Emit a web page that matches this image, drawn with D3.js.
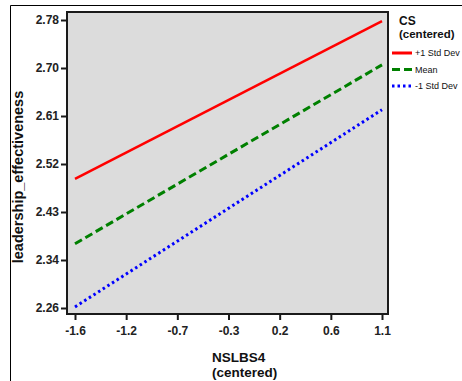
<!DOCTYPE html>
<html>
<head>
<meta charset="utf-8">
<script src="https://cdn.jsdelivr.net/npm/d3@7"></script>
<style>
	body { margin: 0; background: #fff; }
	svg text { font-family: "Liberation Sans", Arial, sans-serif; }
</style>
</head>
<body>
<div id="idContent"></div>
<script>
// x positions of the two line ends (NSLBS4, centered)
var aXValues = [-1.6, 1.1];
// predicted leadership_effectiveness for each CS level
var aHighValues = [2.493, 2.778];
var aMeanValues = [2.376, 2.699];
var aLowValues = [2.262, 2.618];
var aSeriesNames = ["+1 Std Dev", "Mean", "-1 Std Dev"];
var aXTickLabels = ["-1.6", "-1.2", "-0.7", "-0.3", "0.2", "0.6", "1.1"];
var aYTickLabels = ["2.26", "2.34", "2.43", "2.52", "2.61", "2.70", "2.78"];

var width = 462, height = 381;
var oSvg = d3.select("#idContent").append("svg")
	.attr("width", width)
	.attr("height", height);

// outer frame (top and left edges only)
oSvg.append("path")
	.attr("d", "M10.5,381 V5.5 H462")
	.attr("fill", "none")
	.attr("stroke", "#000")
	.attr("stroke-width", 1);

var plot = { left: 67, top: 12, right: 388, bottom: 314 };

var x = d3.scaleLinear().domain([-1.6, 1.1]).range([75, 382]);
var y = d3.scaleLinear().domain([2.26, 2.78]).range([308, 20]);

oSvg.append("rect")
	.attr("x", plot.left)
	.attr("y", plot.top)
	.attr("width", plot.right - plot.left)
	.attr("height", plot.bottom - plot.top)
	.attr("fill", "#dcdcdc")
	.attr("stroke", "#1a1a1a")
	.attr("stroke-width", 2);

// evenly spaced ticks, labelled with the rounded values shown on the chart
var aXTicks = aXTickLabels.map(function (d, i) { return -1.6 + i * 2.7 / (aXTickLabels.length - 1); });
var aYTicks = aYTickLabels.map(function (d, i) { return 2.26 + i * 0.52 / (aYTickLabels.length - 1); });

var xAxis = d3.axisBottom(x)
	.tickValues(aXTicks)
	.tickSize(6)
	.tickSizeOuter(0)
	.tickFormat(function (d, i) { return aXTickLabels[i]; });
var gx = oSvg.append("g")
	.attr("transform", "translate(0," + plot.bottom + ")")
	.call(xAxis);
gx.select(".domain").remove();
gx.selectAll("line").attr("stroke", "#1a1a1a").attr("stroke-width", 2);
gx.selectAll("text")
	.attr("y", 12)
	.style("font-family", "'Liberation Sans Narrow', 'Liberation Sans', Arial")
	.style("font-size", "12px")
	.style("font-weight", "bold")
	.attr("fill", "#222");

var yAxis = d3.axisLeft(y)
	.tickValues(aYTicks)
	.tickSize(6)
	.tickSizeOuter(0)
	.tickFormat(function (d, i) { return aYTickLabels[i]; });
var gy = oSvg.append("g")
	.attr("transform", "translate(" + plot.left + ",0)")
	.call(yAxis);
gy.select(".domain").remove();
gy.selectAll("line").attr("stroke", "#1a1a1a").attr("stroke-width", 2);
gy.selectAll("text")
	.attr("x", -8)
	.style("font-family", "'Liberation Sans Narrow', 'Liberation Sans', Arial")
	.style("font-size", "12px")
	.style("font-weight", "bold")
	.attr("fill", "#222");

// lines
var aSeries = [
	{ name: aSeriesNames[0], values: aHighValues, color: "#ff0000", dash: null, width: 2.5 },
	{ name: aSeriesNames[1], values: aMeanValues, color: "#008000", dash: "8,4", width: 3 },
	{ name: aSeriesNames[2], values: aLowValues, color: "#0000ff", dash: "2.5,3", width: 3 }
];

var line = d3.line()
	.x(function (d) { return x(d.x); })
	.y(function (d) { return y(d.y); });

aSeries.forEach(function (s) {
	var aPoints = aXValues.map(function (xv, i) { return { x: xv, y: s.values[i] }; });
	oSvg.append("path")
		.datum(aPoints)
		.attr("d", line)
		.attr("fill", "none")
		.attr("stroke", s.color)
		.attr("stroke-width", s.width)
		.attr("stroke-dasharray", s.dash);
});

// axis titles
oSvg.append("text")
	.attr("transform", "translate(23,177) rotate(-90)")
	.attr("text-anchor", "middle")
	.style("font-size", "14.5px")
	.style("font-weight", "bold")
	.attr("fill", "#111")
	.text("leadership_effectiveness");

var oXTitle = oSvg.append("text")
	.attr("y", 362)
	.style("font-size", "13.5px")
	.style("font-weight", "bold")
	.attr("fill", "#111");
oXTitle.append("tspan").attr("x", 212).attr("dy", 0).text("NSLBS4");
oXTitle.append("tspan").attr("x", 212).attr("dy", 14.5).text("(centered)");

// legend
var oLegend = oSvg.append("g").attr("transform", "translate(396,0)");
oLegend.append("text")
	.attr("x", 3).attr("y", 25)
	.style("font-size", "12px").style("font-weight", "bold").attr("fill", "#111")
	.text("CS");
oLegend.append("text")
	.attr("x", 3).attr("y", 38)
	.style("font-size", "11.5px").style("font-weight", "bold").attr("fill", "#111")
	.text("(centered)");

aSeries.forEach(function (s, i) {
	var ly = 53 + i * 16.5;
	oLegend.append("line")
		.attr("x1", -4).attr("x2", 16)
		.attr("y1", ly).attr("y2", ly)
		.attr("stroke", s.color)
		.attr("stroke-width", 3)
		.attr("stroke-dasharray", s.dash);
	oLegend.append("text")
		.attr("x", 19).attr("y", ly + 3)
		.style("font-size", "9px")
		.attr("fill", "#111")
		.text(s.name);
});
</script>
</body>
</html>
